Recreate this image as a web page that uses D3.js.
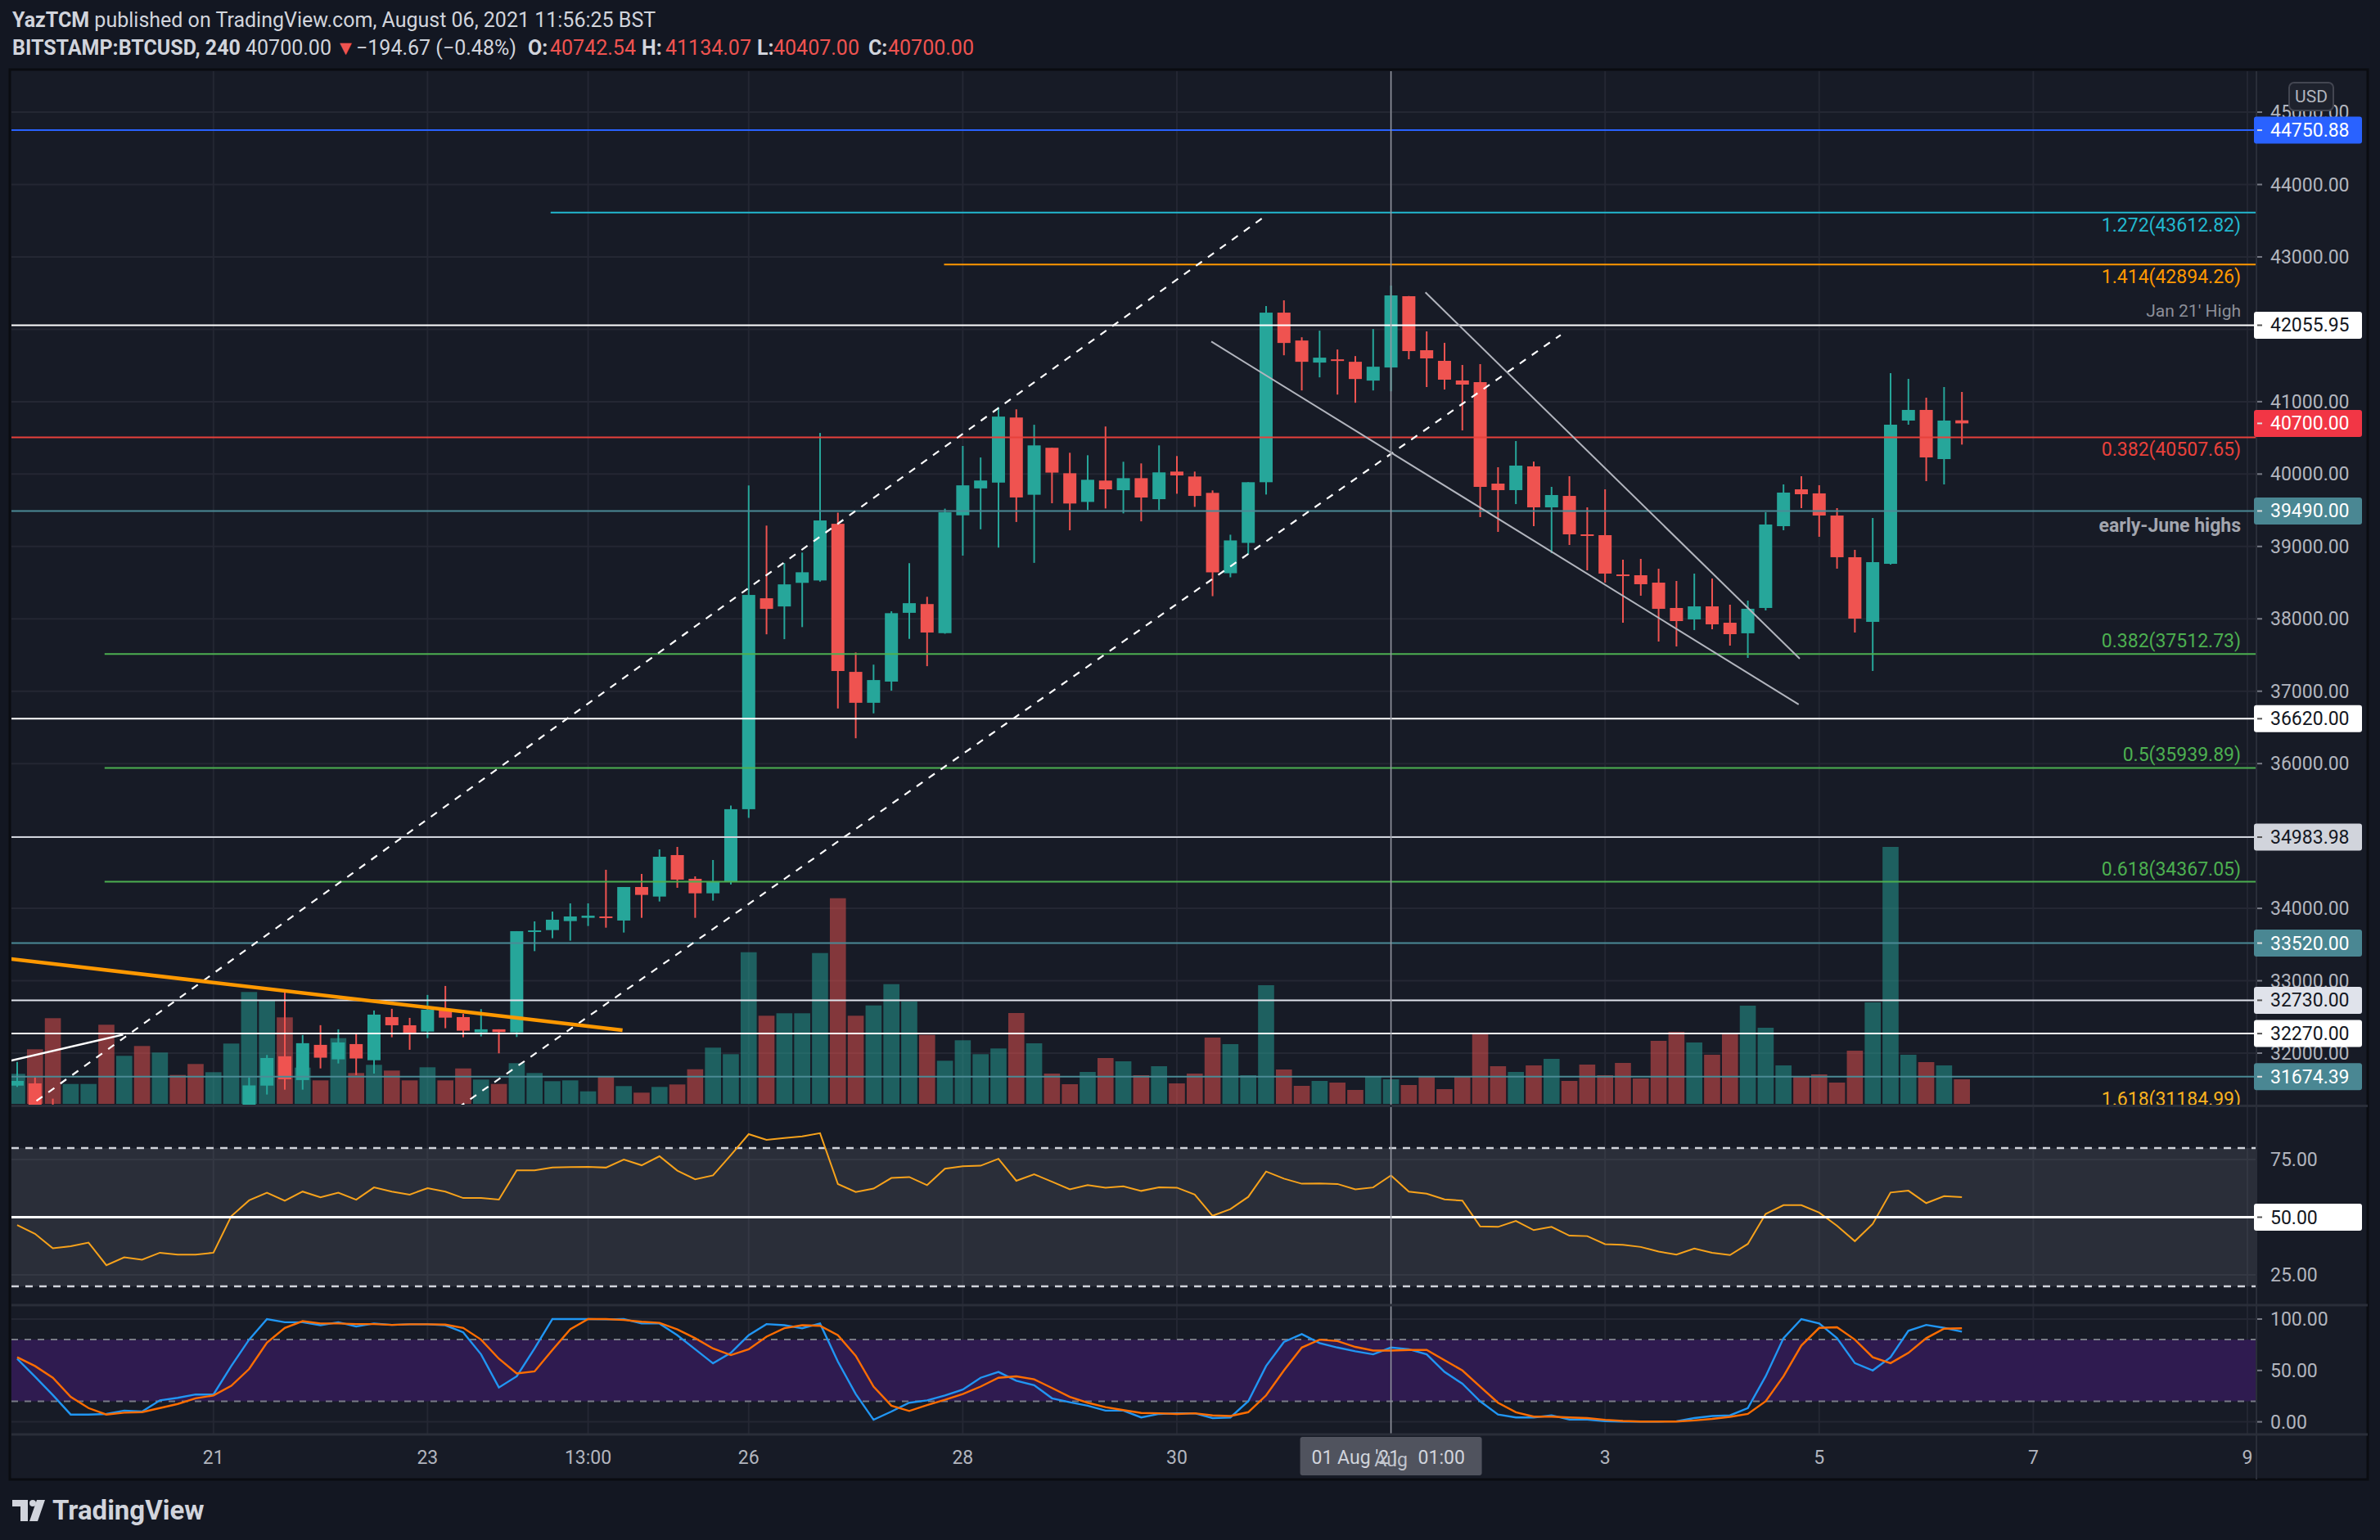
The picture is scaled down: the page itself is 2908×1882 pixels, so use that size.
<!DOCTYPE html>
<html><head><meta charset="utf-8">
<script src="https://cdn.jsdelivr.net/npm/d3@7"></script>
<style>body{margin:0;background:#131722;}svg{display:block;}</style>
</head><body>
<svg id="c" width="2908" height="1882"></svg>
<script>
// ---------------- DATA (4h candles, BITSTAMP:BTCUSD, from 19 Jul 05:00 to 06 Aug 09:00) ----------------
const openP = [
31551,31582,31150,30700,30850,30950,29950,30250,30100,30400,
30300,30250,30400,31150,31551,31956,31628,32114,31914,32125,
31902,32498,32385,32298,32608,32498,32287,32329,32287,33677,
33700,33824,33869,33888,33832,34295,34163,34736,34408,34208,
34367,35370,38284,38171,38497,38530,39313,37267,36840,37133,
38083,38204,37802,39430,39802,39882,40781,39714,40363,40011,
39615,39910,39777,39943,39653,40034,39966,39740,38630,39049,
39887,42230,41845,41540,41585,41551,41291,41472,42457,41711,
41564,41293,41270,39868,39778,40106,39540,39698,39167,39156,
38613,38602,38500,38150,37992,38172,37946,37800,38150,39280,
39789,39733,39427,38851,37958,38760,40739,40886,40207,40742.54];
const highP = [
31879,31665,31371,30950,31050,31000,30350,30300,30500,30450,
30400,30500,31250,31665,31974,32847,32250,32386,32329,32261,
32589,32612,32487,32804,32928,32543,32608,32329,33685,33820,
33956,34069,34069,34533,34295,34476,34815,34849,34442,34668,
35420,39844,39288,38769,38915,40568,39467,37535,37367,38104,
38769,38304,39522,40388,40229,40923,40894,40681,40363,40294,
40260,40657,40170,40147,40396,40249,40034,39774,39162,39887,
42321,42400,41890,41981,41721,41630,42004,42604,42460,41971,
41813,41507,41519,40094,40456,40173,39823,39970,39540,39789,
38817,38828,38692,38523,38625,38557,38195,38252,39473,39857,
39970,39846,39529,38953,39393,41394,41315,41055,41202,41134.07];
const lowP = [
31533,30950,30600,30500,30700,29700,29800,29850,30000,30150,
30050,30100,30350,31050,31428,31495,31495,31789,31857,31696,
31717,32219,32046,32208,32344,32219,32231,31997,32223,33409,
33587,33553,33756,33733,33666,33869,34095,34284,33869,34107,
34330,35250,37786,37719,37886,38514,36761,36350,36694,37007,
37723,37346,37794,38873,39237,38984,39338,38773,39597,39223,
39502,39525,39457,39347,39502,39728,39547,38313,38574,38891,
39717,41641,41155,41336,41098,40985,41155,41143,41586,41202,
41168,40603,39405,39201,39585,39280,38907,39020,38670,38500,
37946,38319,37686,37618,37845,37856,37630,37460,38116,39224,
39529,39133,38693,37811,37280,38749,40682,39902,39857,40407];
const closeP = [
31616,31150,30700,30850,30950,29950,30250,30100,30400,30300,
30250,30400,31150,31554,31933,31639,32137,31937,32148,31926,
32532,32385,32283,32600,32490,32310,32329,32291,33685,33696,
33843,33888,33899,33869,34295,34186,34713,34397,34208,34367,
35370,38330,38137,38476,38643,39359,37279,36840,37154,38078,
38216,37811,39472,39844,39911,40794,39677,40396,40020,39593,
39921,39789,39943,39676,40023,39981,39698,38642,39083,39887,
42230,41811,41551,41608,41562,41313,41483,42468,41699,41598,
41304,41236,39823,39778,40117,39540,39710,39167,39145,38625,
38598,38478,38138,37969,38172,37924,37788,38139,39303,39744,
39721,39427,38851,38003,38783,40682,40886,40230,40739,40700];
const volume = [
367,667,1047,243,243,967,587,707,627,353,
487,387,737,1367,1260,1057,443,287,803,377,
477,407,287,447,287,433,297,243,497,377,
277,287,153,333,217,137,207,237,423,687,
607,1853,1077,1107,1107,1843,2513,1077,1203,1463,
1253,843,527,777,607,677,1110,740,370,240,
390,560,520,350,460,250,370,810,730,350,
1450,420,220,280,260,170,330,300,230,330,
180,330,850,460,390,470,550,280,480,350,
500,310,770,880,750,600,850,1200,930,470,
330,360,260,650,1240,3140,600,510,470,300];
const rsi = [
46.6,42.8,36.5,37.4,39.0,29.2,32.6,31.6,34.6,33.8,
33.8,34.6,50.4,57.3,60.6,57.1,61.1,58.6,60.6,57.6,
62.9,61.1,59.8,62.6,61.1,58.3,58.3,57.6,70.3,70.3,
71.5,71.7,71.8,71.5,75.0,72.5,76.4,70.2,66.4,68.1,
76.9,86.0,83.5,84.3,85.0,86.4,64.4,60.9,62.4,67.0,
67.4,63.9,71.0,72.1,72.3,75.3,65.8,68.6,65.4,62.1,
63.9,62.8,63.4,61.4,62.9,62.8,59.8,50.6,53.5,58.8,
69.8,66.7,64.5,64.6,64.4,62.1,62.9,68.1,61.1,60.2,
57.7,57.2,46.0,45.8,48.4,44.4,45.8,42.0,41.8,38.3,
38.0,37.1,35.1,33.8,36.4,34.6,33.6,38.4,51.4,55.2,
55.2,52.0,46.3,39.6,47.1,60.7,61.5,56.1,59.1,58.7];
const stochK = [
61.4,44,26,7.1,7.1,7.7,10.9,10,20.9,23.4,
26.6,26.6,54.3,80,100,96.9,96.9,94,96.9,92.9,
95.7,94.3,94.9,94.9,94,87.1,65.7,33.4,44.3,71.4,
100,100,100,99.7,100,95.7,95.7,84.3,70.6,56.9,
67.1,84.3,95.1,94,91.1,95.7,58.6,27.1,2,10,
18.6,20.9,25.7,31.4,42.9,48.6,40,35.7,22.9,19.1,
15.7,10.9,10.9,4.3,7.7,8.3,8.3,3.7,4.3,20,
54.3,77.7,85.4,76.6,72.3,68.6,65.7,72.3,70.6,65.7,
48.6,37.1,20,7.1,4.3,4.3,6.3,2.3,2.3,0.6,
0.3,0.3,0.3,0.6,3.7,5.7,6.3,13.4,44.3,81.4,
100,95.7,81.4,57.1,50,62.9,88.6,94.3,91.4,87.7];
const stochD = [
62.9,54.3,42.9,24.3,13.4,7.1,8.9,9.4,13.4,17.4,
22.9,25.7,35.1,51.4,77.1,91.4,98,95.7,95.7,95.1,
95.1,94.3,94.9,94.9,94.6,91.4,80,61.4,47.1,49.1,
70,90,100,100,99.1,97.4,96.3,90,81.4,71.4,
64.9,70.6,82.9,91.1,94,93.4,84.3,64.3,34.3,15.7,
10.6,16.3,21.4,27.1,34.3,42.9,44.3,41.4,32.9,24.3,
18.6,14.3,11.4,8.6,8.3,7.7,8.3,6.3,5.7,9.4,
25.7,50,72.3,80,78.6,72.9,69.4,69.4,70,70,
60,50,34.3,18.6,9.4,5.1,5.1,4.3,3.7,2,
0.9,0.3,0.3,0.3,1.4,2.9,4.9,7.7,20,44.3,
74.3,91.4,92,80,62.9,57.1,67.1,81.4,90.6,91.1];

const xTickIdx = [11,23,32,41,53,65,77,89,101,113,125];
const xTickLabels = ["21","23","13:00","26","28","30","Aug","3","5","7","9"];
const priceTicks = [45000,44000,43000,42000,41000,40000,39000,38000,37000,36000,35000,34000,33000,32000];
const rsiTicks = [75,50,25];
const stochTicks = [100,50,0];
const crossIdx = 77;

// horizontal levels
const levelPrices = [44750.88,43612.82,42894.26,42055.95,40507.65,39490,37512.73,36620,35939.89,34983.98,34367.05,33520,32730,32270,31674.39,31184.99];
const levelKinds  = ["blue","cyan","orange","white","red","teal","green","white","green","light","green","teal","light2","white","teal","yellow"];
const levelStart  = [null,29.9,51.95,null,null,null,4.9,null,4.9,null,4.9,null,null,null,null,4.9];
const levelText   = ["","1.272(43612.82)","1.414(42894.26)","Jan 21' High","0.382(40507.65)","early-June highs","0.382(37512.73)","","0.5(35939.89)","","0.618(34367.05)","","","","","1.618(31184.99)"];
const axisBoxPrices = [44750.88,42055.95,40700,39490,36620,34983.98,33520,32730,32270,31674.39];
const axisBoxKinds  = ["blue","white","red","teal","white","light","teal","light2","white","teal"];

// trend lines as [index, price] pairs
const channelUpper = [[0.41,31222],[70.07,43586]];
const channelLower = [[24.72,31247],[86.51,41922]];
const wedgeUpper   = [[78.93,42510],[99.91,37449]];
const wedgeLower   = [[66.93,41830],[99.85,36818]];
const whiteTrend   = [[-0.5,31887],[5.94,32256]];
const orangeTrend  = [[-0.5,33306],[33.93,32317]];

// header pieces: [text, x, bold, red]
const headerLine2 = [["BITSTAMP:BTCUSD, 240",15,true,false],["40700.00",300,false,false],["▼",410,false,true],
  ["\u2212194.67 (\u22120.48%)",435,false,false],["O:",645,true,false],["40742.54",672,false,true],
  ["H:",784,true,false],["41134.07",813,false,true],["L:",925,true,false],["40407.00",945,false,true],
  ["C:",1061,true,false],["40700.00",1085,false,true]];

// ---------------- LAYOUT ----------------
const W=2908,H=1882;
const L=14, R=2756, AX_R=2886;
const mainT=87, mainB=1350, rsiT=1353, rsiB=1593, stT=1597, stB=1752, axB=1808;
const FONT="Roboto, 'Liberation Sans', Arial, sans-serif";
const colors = {blue:"#2962ff",cyan:"#22b8cf",orange:"#ff9800",white:"#ffffff",red:"#e8413b",teal:"#4b8a95",
  green:"#4caf50",light:"#d1d4dc",light2:"#e0e3eb",yellow:"#f7b21f"};
const UP="#26a69a", DN="#ef5350";

const x = d3.scaleLinear().domain([-0.32,125.46]).range([L,R]);
const y = d3.scaleLinear().domain([32000,44000]).range([1287,225.5]);
const yv = d3.scaleLinear().domain([0,3500]).range([1349,999]);
const yr = d3.scaleLinear().domain([25,75]).range([1558,1417]);
const ys = d3.scaleLinear().domain([0,100]).range([1737.6,1612]);
const step = x(1)-x(0);

const svg = d3.select("#c").style("font-family",FONT);
svg.append("rect").attr("width",W).attr("height",H).attr("fill","#131722");
svg.append("rect").attr("x",12).attr("y",85).attr("width",2881).attr("height",axB-85)
  .attr("fill","#171b26").attr("stroke","#0a0c11").attr("stroke-width",3);

const defs = svg.append("defs");
[["cmain",mainT,mainB],["crsi",rsiT,rsiB],["cst",stT,stB]].forEach(([id,t,b])=>{
  defs.append("clipPath").attr("id",id).append("rect").attr("x",L).attr("y",t).attr("width",R-L).attr("height",b-t);
});

// ---------------- HEADER ----------------
const h1 = svg.append("text").attr("x",15).attr("y",33).attr("font-size",25).attr("fill","#d1d4dc");
h1.append("tspan").attr("font-weight","bold").text("YazTCM");
h1.append("tspan").text(" published on TradingView.com, August 06, 2021 11:56:25 BST");
headerLine2.forEach(([t,xx,b,red])=>{
  svg.append("text").attr("x",xx).attr("y",67).attr("font-size",25)
    .attr("font-weight",b?"bold":"normal").attr("fill",red?DN:"#d1d4dc").text(t);
});

// ---------------- GRID ----------------
const grid = svg.append("g").attr("stroke","#242733").attr("stroke-width",2);
xTickIdx.forEach(i=>{ grid.append("line").attr("x1",x(i)).attr("x2",x(i)).attr("y1",mainT).attr("y2",stB); });
priceTicks.forEach(p=>{ grid.append("line").attr("x1",L).attr("x2",R).attr("y1",y(p)).attr("y2",y(p)).attr("clip-path","url(#cmain)"); });
rsiTicks.forEach(v=>{ grid.append("line").attr("x1",L).attr("x2",R).attr("y1",yr(v)).attr("y2",yr(v)); });
stochTicks.forEach(v=>{ grid.append("line").attr("x1",L).attr("x2",R).attr("y1",ys(v)).attr("y2",ys(v)); });

// ---------------- MAIN PANE ----------------
const gm = svg.append("g").attr("clip-path","url(#cmain)");
const idx = d3.range(openP.length);
gm.selectAll("rect.vol").data(idx).join("rect")
  .attr("x",i=>x(i)-step*0.45).attr("width",step*0.9)
  .attr("y",i=>yv(volume[i])).attr("height",i=>yv(0)-yv(volume[i]))
  .attr("fill",i=>closeP[i]>=openP[i]?"rgba(38,166,154,0.5)":"rgba(239,83,80,0.5)");
const gc = gm.append("g");
gc.selectAll("line.wick").data(idx).join("line")
  .attr("x1",i=>x(i)).attr("x2",i=>x(i)).attr("y1",i=>y(highP[i])).attr("y2",i=>y(lowP[i]))
  .attr("stroke",i=>closeP[i]>=openP[i]?UP:DN).attr("stroke-width",2);
gc.selectAll("rect.body").data(idx).join("rect")
  .attr("x",i=>x(i)-step*0.367).attr("width",step*0.734)
  .attr("y",i=>y(Math.max(openP[i],closeP[i])))
  .attr("height",i=>Math.max(2,Math.abs(y(openP[i])-y(closeP[i]))))
  .attr("fill",i=>closeP[i]>=openP[i]?UP:DN);

levelPrices.forEach((p,k)=>{
  const kind=levelKinds[k], c=colors[kind];
  const x1 = levelStart[k]==null?L:x(levelStart[k]);
  gm.append("line").attr("x1",x1).attr("x2",R).attr("y1",y(p)).attr("y2",y(p))
    .attr("stroke",c).attr("stroke-width",2);
  const t=levelText[k];
  if(!t) return;
  let ty, fill=c, fw="normal", fs=23;
  if(["cyan","orange","red"].includes(kind)) ty=y(p)+23;
  else if(kind==="teal"){ ty=y(p)+26; fill="#a3a6af"; fw="bold"; fs=23; }
  else if(kind==="white"){ ty=y(p)-10; fill="#8c8f99"; fs=21; }
  else ty=y(p)-8;
  gm.append("text").attr("x",2738).attr("y",ty).attr("text-anchor","end")
    .attr("font-size",fs).attr("font-weight",fw).attr("fill",fill).text(t);
});

const line = d3.line().x(d=>x(d[0])).y(d=>y(d[1]));
gm.append("path").datum(channelUpper).attr("d",line).attr("stroke","#ffffff").attr("stroke-width",2.2).attr("stroke-dasharray","9,9").attr("fill","none");
gm.append("path").datum(channelLower).attr("d",line).attr("stroke","#ffffff").attr("stroke-width",2.2).attr("stroke-dasharray","9,9").attr("fill","none");
gm.append("path").datum(wedgeUpper).attr("d",line).attr("stroke","#b2b5be").attr("stroke-width",2).attr("fill","none");
gm.append("path").datum(wedgeLower).attr("d",line).attr("stroke","#b2b5be").attr("stroke-width",2).attr("fill","none");
gm.append("path").datum(whiteTrend).attr("d",line).attr("stroke","#ffffff").attr("stroke-width",2.5).attr("fill","none");
gm.append("path").datum(orangeTrend).attr("d",line).attr("stroke","#ff9800").attr("stroke-width",4.5).attr("fill","none");

// ---------------- RSI PANE ----------------
const gr = svg.append("g").attr("clip-path","url(#crsi)");
gr.append("rect").attr("x",L).attr("width",R-L).attr("y",yr(80)).attr("height",yr(20)-yr(80)).attr("fill","rgba(120,123,134,0.2)");
[80,20].forEach(v=>gr.append("line").attr("x1",L).attr("x2",R).attr("y1",yr(v)).attr("y2",yr(v))
  .attr("stroke","#d1d4dc").attr("stroke-width",2.5).attr("stroke-dasharray","9,8"));
gr.append("path").datum(rsi).attr("d",d3.line().x((d,i)=>x(i)).y(d=>yr(d)))
  .attr("stroke","#f7a21b").attr("stroke-width",2).attr("fill","none");
gr.append("line").attr("x1",L).attr("x2",R).attr("y1",yr(50)).attr("y2",yr(50)).attr("stroke","#ffffff").attr("stroke-width",3);

// ---------------- STOCH RSI PANE ----------------
const gs = svg.append("g").attr("clip-path","url(#cst)");
gs.append("rect").attr("x",L).attr("width",R-L).attr("y",ys(80)).attr("height",ys(20)-ys(80)).attr("fill","#2f1b50");
[80,20].forEach(v=>gs.append("line").attr("x1",L).attr("x2",R).attr("y1",ys(v)).attr("y2",ys(v))
  .attr("stroke","#787b86").attr("stroke-width",2).attr("stroke-dasharray","8,8"));
gs.append("path").datum(stochK).attr("d",d3.line().x((d,i)=>x(i)).y(d=>ys(d)))
  .attr("stroke","#2196f3").attr("stroke-width",2.4).attr("fill","none");
gs.append("path").datum(stochD).attr("d",d3.line().x((d,i)=>x(i)).y(d=>ys(d)))
  .attr("stroke","#ff6d00").attr("stroke-width",2.4).attr("fill","none");

svg.append("line").attr("x1",x(crossIdx)).attr("x2",x(crossIdx)).attr("y1",mainT).attr("y2",stB)
  .attr("stroke","#9598a1").attr("stroke-width",1.5);

const sep = svg.append("g").attr("stroke","#2a2e39").attr("stroke-width",3);
[mainB+1.5,rsiB+2,stB+1].forEach(v=>sep.append("line").attr("x1",L).attr("x2",2893).attr("y1",v).attr("y2",v));
sep.append("line").attr("x1",R+1).attr("x2",R+1).attr("y1",mainT).attr("y2",axB).attr("stroke-width",2);

// ---------------- AXES ----------------
const ax = svg.append("g").attr("font-size",23).attr("fill","#b2b5be");
priceTicks.forEach(p=>{
  ax.append("line").attr("x1",R+2).attr("x2",R+8).attr("y1",y(p)).attr("y2",y(p)).attr("stroke","#787b86").attr("stroke-width",2);
  ax.append("text").attr("x",2774).attr("y",y(p)+8).text(d3.format(".2f")(p));
});
[[75,"75.00"],[25,"25.00"]].forEach(([v,t])=>ax.append("text").attr("x",2774).attr("y",yr(v)+8).text(t));
stochTicks.forEach(v=>{
  ax.append("line").attr("x1",R+2).attr("x2",R+8).attr("y1",ys(v)).attr("y2",ys(v)).attr("stroke","#787b86").attr("stroke-width",2);
  ax.append("text").attr("x",2774).attr("y",ys(v)+8).text(d3.format(".2f")(v));
});
function box(yy,text,kind){
  const light=["white","light","light2"].includes(kind);
  const fill = kind==="red"?"#f23645":kind==="teal"?"#4a8793":colors[kind];
  svg.append("rect").attr("x",2754).attr("y",yy-16.5).attr("width",AX_R-2754).attr("height",33).attr("rx",3).attr("fill",fill);
  svg.append("line").attr("x1",R+2).attr("x2",R+8).attr("y1",yy).attr("y2",yy).attr("stroke",light?"#555":"#ddd").attr("stroke-width",2);
  svg.append("text").attr("x",2774).attr("y",yy+8).attr("font-size",23).attr("fill",light?"#131722":"#ffffff").text(text);
}
axisBoxPrices.forEach((p,k)=>box(y(p),d3.format(".2f")(p),axisBoxKinds[k]));
box(yr(50),"50.00","white");
svg.append("rect").attr("x",2797).attr("y",101).attr("width",54).attr("height",34).attr("rx",6)
  .attr("fill","#1e222d").attr("stroke","#434651").attr("stroke-width",2);
svg.append("text").attr("x",2824).attr("y",125).attr("text-anchor","middle").attr("font-size",21).attr("fill","#b2b5be").text("USD");

xTickIdx.forEach((i,k)=>{
  svg.append("text").attr("x",x(i)).attr("y",1789).attr("text-anchor","middle").attr("font-size",23).attr("fill","#b2b5be").text(xTickLabels[k]);
});
const cx = x(crossIdx);
svg.append("rect").attr("x",cx-111).attr("y",1756).attr("width",222).attr("height",47).attr("rx",3).attr("fill","#50535e");
svg.append("text").attr("x",cx-97).attr("y",1789).attr("font-size",23).attr("fill","#d1d4dc").text("01 Aug '21");
svg.append("text").attr("x",cx+33).attr("y",1789).attr("font-size",23).attr("fill","#d1d4dc").text("01:00");
svg.append("text").attr("x",cx).attr("y",1792).attr("text-anchor","middle").attr("font-size",23).attr("fill","#c0c3cc").text("Aug");

const lg = svg.append("g").attr("fill","#d1d4dc");
lg.append("rect").attr("x",15).attr("y",1833).attr("width",19).attr("height",8);
lg.append("rect").attr("x",25).attr("y",1833).attr("width",9).attr("height",26);
lg.append("circle").attr("cx",40).attr("cy",1837).attr("r",4);
lg.append("path").attr("d","M45,1833 L55,1833 L46,1859 L36,1859 Z");
svg.append("text").attr("x",64).attr("y",1857).attr("font-size",33).attr("font-weight","bold").attr("fill","#d1d4dc").text("TradingView");
</script>
</body></html>
